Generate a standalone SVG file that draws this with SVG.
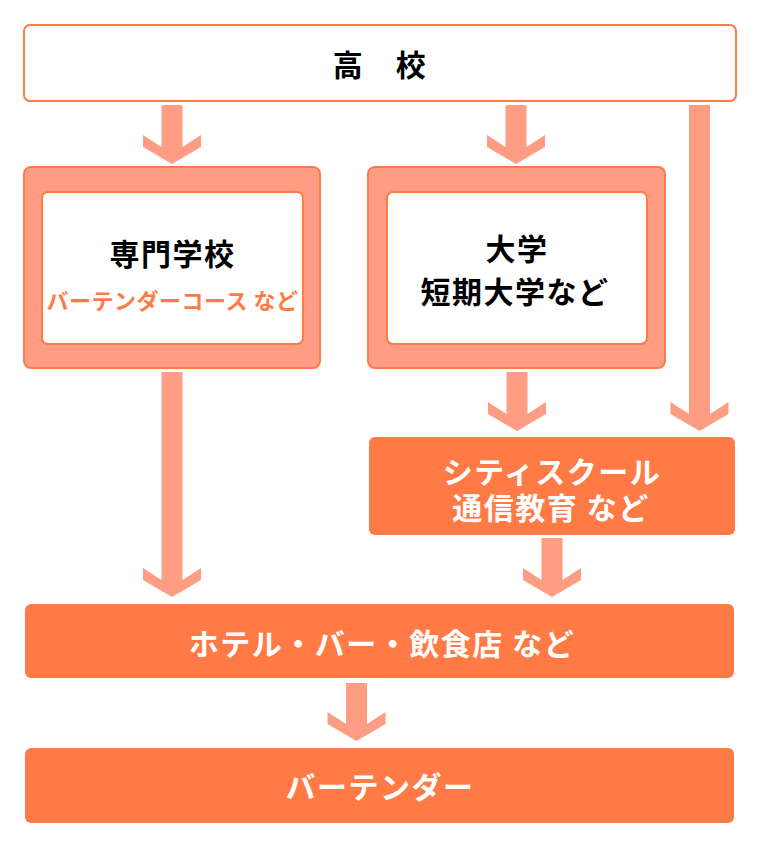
<svg xmlns="http://www.w3.org/2000/svg" width="760" height="855" viewBox="0 0 760 855">
<style>
.t{font-family:"Noto Sans CJK JP","Noto Sans CJK SC",sans-serif;font-weight:bold;text-anchor:middle;dominant-baseline:central}
.big{font-size:30px;letter-spacing:1.5px}
.blk{fill:#000}
.wht{fill:#fff}
.sub{font-size:22px;letter-spacing:0.5px;fill:#FF7A45}
.line{fill:#fff;stroke:#FF7A45;stroke-width:2}
.frame{fill:#FF9C84;stroke:#FF7A45;stroke-width:2}
.solid{fill:#FF7A45}
.arr{fill:#FF9C84}
</style>
<rect width="760" height="855" fill="#fff"/>
<g id="connectors">
<polygon class="arr" points="161.5,105 182.5,105 182.5,147 201,135 201,147 172,164 143,147 143,135 161.5,147"/>
<polygon class="arr" points="505.5,105 526.5,105 526.5,147 545,135 545,147 516,164 487,147 487,135 505.5,147"/>
<polygon class="arr" points="689,105 710,105 710,414 728.5,402 728.5,414 699.5,431 670.5,414 670.5,402 689,414"/>
<polygon class="arr" points="161.5,372 182.5,372 182.5,580 201,568 201,580 172,597 143,580 143,568 161.5,580"/>
<polygon class="arr" points="506.5,372 527.5,372 527.5,414 546,402 546,414 517,431 488,414 488,402 506.5,414"/>
<polygon class="arr" points="541.5,538 562.5,538 562.5,580 581,568 581,580 552,597 523,580 523,568 541.5,580"/>
<polygon class="arr" points="346,683 367,683 367,724 385.5,712 385.5,724 356.5,741 327.5,724 327.5,712 346,724"/>
</g>
<g id="koukou">
<rect class="line" x="24" y="25" width="712" height="76" rx="6"/>
<text class="t big blk" x="380" y="63">高　校</text>
</g>
<g id="senmon">
<rect class="frame" x="24" y="167" width="296" height="201" rx="7"/>
<rect class="line" x="42" y="192" width="261" height="152" rx="6"/>
<text class="t big blk" x="172.5" y="252">専門学校</text>
<text class="t sub" x="172.5" y="299">バーテンダーコース など</text>
</g>
<g id="daigaku">
<rect class="frame" x="368" y="167" width="297" height="201" rx="7"/>
<rect class="line" x="387" y="192" width="260" height="152" rx="6"/>
<text class="t big blk" x="517" y="247">大学</text>
<text class="t big blk" x="515" y="290">短期大学など</text>
</g>
<g id="city">
<rect class="solid" x="369" y="437" width="366" height="98" rx="6"/>
<text class="t big wht" x="552" y="470">シティスクール</text>
<text class="t big wht" x="551" y="506">通信教育 など</text>
</g>
<g id="hotel">
<rect class="solid" x="25" y="604" width="709" height="74" rx="6"/>
<text class="t big wht" x="382" y="642">ホテル・バー・飲食店 など</text>
</g>
<g id="bartender">
<rect class="solid" x="25" y="748" width="709" height="75" rx="6"/>
<text class="t big wht" x="380" y="785">バーテンダー</text>
</g>
</svg>
